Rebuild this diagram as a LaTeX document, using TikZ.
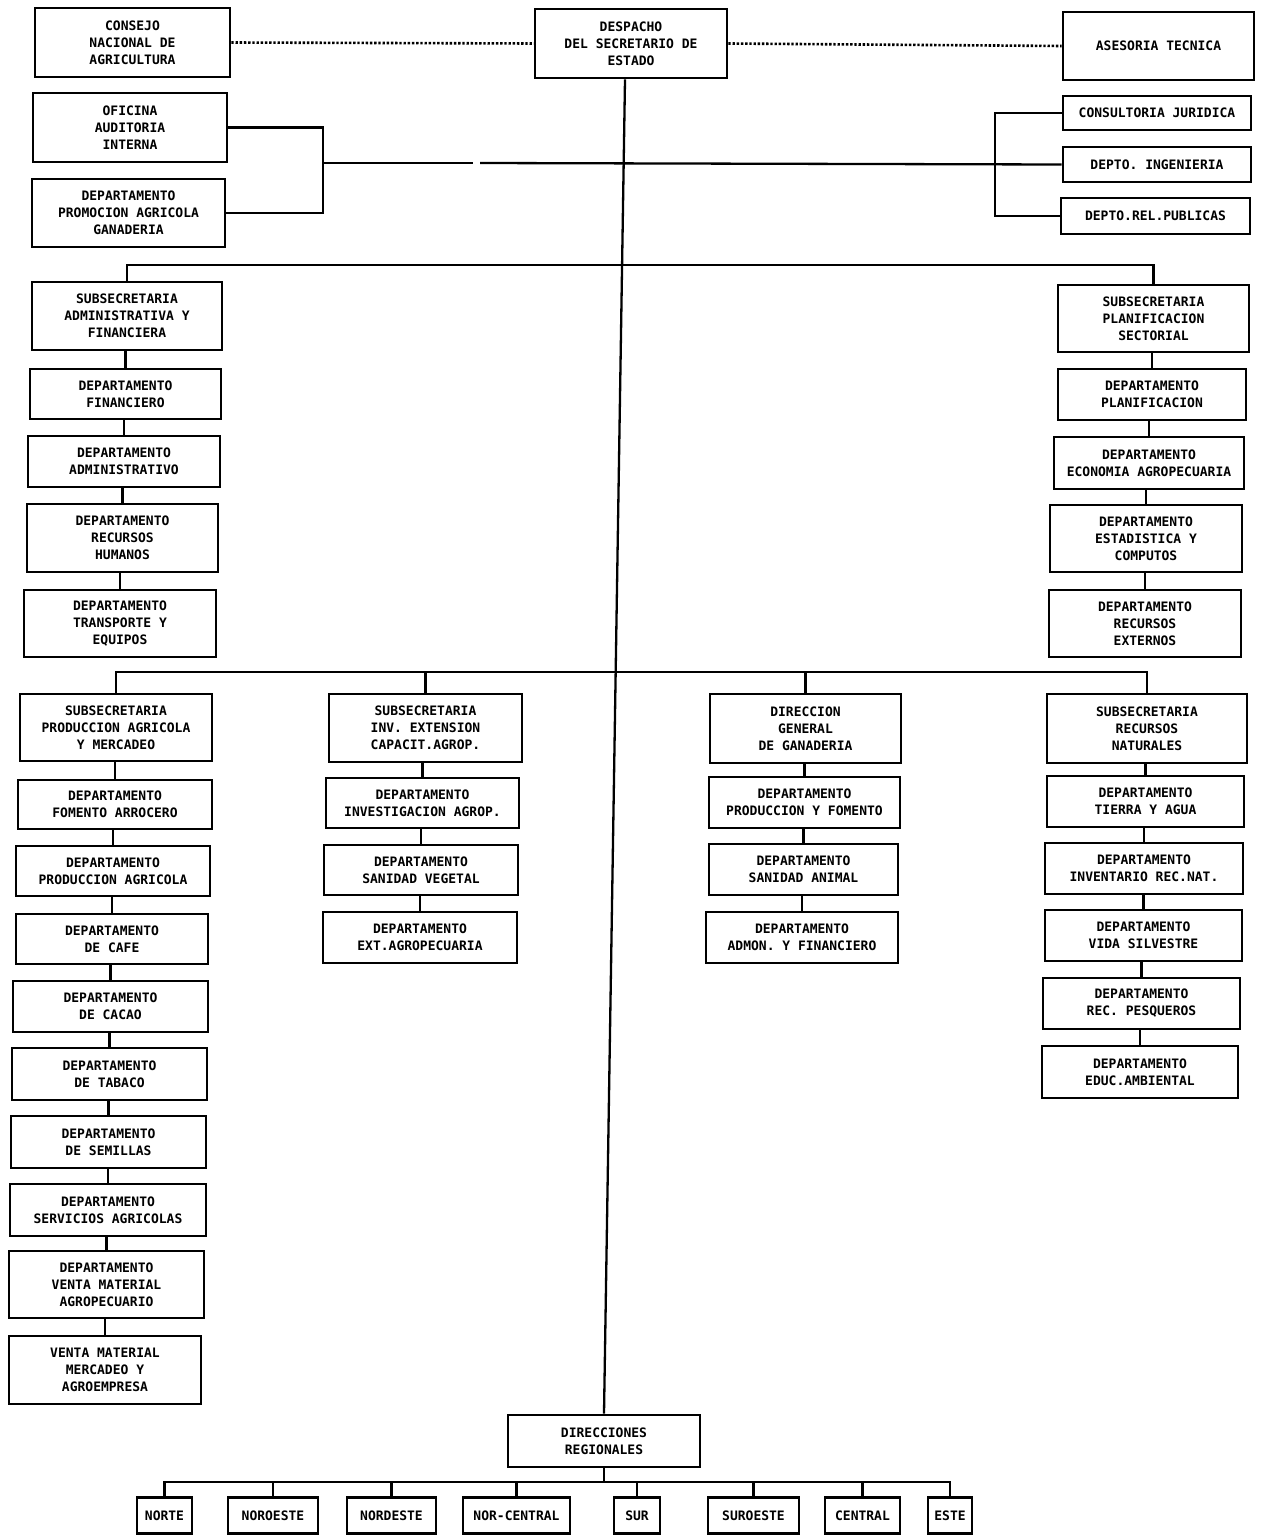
\documentclass[tikz,border=0pt]{standalone}
\usepackage{fontspec}
\newfontfamily\orgfont{DejaVu Sans Mono}
\begin{document}
\begin{tikzpicture}[x=1pt,y=-1pt,
  box/.style={draw, line width=2.6pt, inner sep=0pt, align=center,
    font=\orgfont\bfseries\fontsize{13}{17}\selectfont},
  link/.style={line width=2.3pt},
  dotlink/.style={line width=2.6pt, dash pattern=on 2.4pt off 1.8pt}]
\useasboundingbox[fill=white] (0,0) rectangle (1264,1537);
% top level
\node[box, minimum width=195pt, minimum height=69pt] (consejo) at (132.5,42.5) {CONSEJO\\NACIONAL DE\\AGRICULTURA};
\node[box, minimum width=192pt, minimum height=69pt] (despacho) at (631,43.5) {DESPACHO\\DEL SECRETARIO DE\\ESTADO};
\node[box, minimum width=191pt, minimum height=68pt] (asesoria) at (1158.5,46) {ASESORIA TECNICA};
\node[box, minimum width=194pt, minimum height=69pt] (oficina) at (130,127.5) {OFICINA\\AUDITORIA\\INTERNA};
\node[box, minimum width=193pt, minimum height=68pt] (promocion) at (128.5,213) {DEPARTAMENTO\\PROMOCION AGRICOLA\\GANADERIA};
\node[box, minimum width=188pt, minimum height=34pt] (juridica) at (1157,113) {CONSULTORIA JURIDICA};
\node[box, minimum width=188pt, minimum height=35pt] (ingenieria) at (1157,164.5) {DEPTO. INGENIERIA};
\node[box, minimum width=189pt, minimum height=36pt] (relpub) at (1155.5,216) {DEPTO.REL.PUBLICAS};
% administrativa
\node[box, minimum width=190pt, minimum height=68pt] (subadm) at (127,316) {SUBSECRETARIA\\ADMINISTRATIVA Y\\FINANCIERA};
\node[box, minimum width=191pt, minimum height=50pt] (fin) at (125.5,394) {DEPARTAMENTO\\FINANCIERO};
\node[box, minimum width=192pt, minimum height=51pt] (adm) at (124,461.5) {DEPARTAMENTO\\ADMINISTRATIVO};
\node[box, minimum width=191pt, minimum height=68pt] (rrhh) at (122.5,538) {DEPARTAMENTO\\RECURSOS\\HUMANOS};
\node[box, minimum width=192pt, minimum height=67pt] (trans) at (120,623.5) {DEPARTAMENTO\\TRANSPORTE Y\\EQUIPOS};
% planificacion
\node[box, minimum width=191pt, minimum height=67pt] (subplan) at (1153.5,318.5) {SUBSECRETARIA\\PLANIFICACION\\SECTORIAL};
\node[box, minimum width=188pt, minimum height=51pt] (plan) at (1152,394.5) {DEPARTAMENTO\\PLANIFICACION};
\node[box, minimum width=190pt, minimum height=52pt] (econ) at (1149,463) {DEPARTAMENTO\\ECONOMIA AGROPECUARIA};
\node[box, minimum width=192pt, minimum height=67pt] (est) at (1146,538.5) {DEPARTAMENTO\\ESTADISTICA Y\\COMPUTOS};
\node[box, minimum width=192pt, minimum height=67pt] (recext) at (1145,623.5) {DEPARTAMENTO\\RECURSOS\\EXTERNOS};
% produccion
\node[box, minimum width=192pt, minimum height=67pt] (subprod) at (116,727.5) {SUBSECRETARIA\\PRODUCCION AGRICOLA\\Y MERCADEO};
\node[box, minimum width=194pt, minimum height=49pt] (fom) at (115,804.5) {DEPARTAMENTO\\FOMENTO ARROCERO};
\node[box, minimum width=194pt, minimum height=50pt] (prodag) at (113,871) {DEPARTAMENTO\\PRODUCCION AGRICOLA};
\node[box, minimum width=192pt, minimum height=50pt] (cafe) at (112,939) {DEPARTAMENTO\\DE CAFE};
\node[box, minimum width=195pt, minimum height=51pt] (cacao) at (110.5,1006.5) {DEPARTAMENTO\\DE CACAO};
\node[box, minimum width=195pt, minimum height=52pt] (tabaco) at (109.5,1074) {DEPARTAMENTO\\DE TABACO};
\node[box, minimum width=195pt, minimum height=52pt] (semillas) at (108.5,1142) {DEPARTAMENTO\\DE SEMILLAS};
\node[box, minimum width=196pt, minimum height=52pt] (serv) at (108,1210) {DEPARTAMENTO\\SERVICIOS AGRICOLAS};
\node[box, minimum width=195pt, minimum height=67pt] (venta) at (106.5,1284.5) {DEPARTAMENTO\\VENTA MATERIAL\\AGROPECUARIO};
\node[box, minimum width=192pt, minimum height=68pt] (mercadeo) at (105,1370) {VENTA MATERIAL\\MERCADEO Y\\AGROEMPRESA};
% investigacion
\node[box, minimum width=193pt, minimum height=68pt] (subinv) at (425.5,728) {SUBSECRETARIA\\INV. EXTENSION\\CAPACIT.AGROP.};
\node[box, minimum width=193pt, minimum height=50pt] (invest) at (422.5,803) {DEPARTAMENTO\\INVESTIGACION AGROP.};
\node[box, minimum width=194pt, minimum height=50pt] (sanveg) at (421,870) {DEPARTAMENTO\\SANIDAD VEGETAL};
\node[box, minimum width=194pt, minimum height=51pt] (extag) at (420,937.5) {DEPARTAMENTO\\EXT.AGROPECUARIA};
% ganaderia
\node[box, minimum width=191pt, minimum height=69pt] (dirgan) at (805.5,728.5) {DIRECCION\\GENERAL\\DE GANADERIA};
\node[box, minimum width=191pt, minimum height=51pt] (prodfom) at (804.5,802.5) {DEPARTAMENTO\\PRODUCCION Y FOMENTO};
\node[box, minimum width=189pt, minimum height=51pt] (sanan) at (803.5,869.5) {DEPARTAMENTO\\SANIDAD ANIMAL};
\node[box, minimum width=192pt, minimum height=51pt] (admon) at (802,937.5) {DEPARTAMENTO\\ADMON. Y FINANCIERO};
% recursos naturales
\node[box, minimum width=200pt, minimum height=69pt] (subrec) at (1147,728.5) {SUBSECRETARIA\\RECURSOS\\NATURALES};
\node[box, minimum width=197pt, minimum height=51pt] (tierra) at (1145.5,801.5) {DEPARTAMENTO\\TIERRA Y AGUA};
\node[box, minimum width=198pt, minimum height=51pt] (invent) at (1144,868.5) {DEPARTAMENTO\\INVENTARIO REC.NAT.};
\node[box, minimum width=197pt, minimum height=51pt] (vida) at (1143.5,935.5) {DEPARTAMENTO\\VIDA SILVESTRE};
\node[box, minimum width=197pt, minimum height=51pt] (pesq) at (1141.5,1003.5) {DEPARTAMENTO\\REC. PESQUEROS};
\node[box, minimum width=196pt, minimum height=52pt] (educ) at (1140,1072) {DEPARTAMENTO\\EDUC.AMBIENTAL};
% regionales
\node[box, minimum width=192pt, minimum height=52pt] (direc) at (604,1441) {DIRECCIONES\\REGIONALES};
\node[box, minimum width=55pt, minimum height=36pt] (norte) at (164.5,1515.5) {NORTE};
\node[box, minimum width=90pt, minimum height=36pt] (noroeste) at (273,1515.5) {NOROESTE};
\node[box, minimum width=89pt, minimum height=36pt] (nordeste) at (391.5,1515.5) {NORDESTE};
\node[box, minimum width=107pt, minimum height=36pt] (norcentral) at (516.5,1515.5) {NOR-CENTRAL};
\node[box, minimum width=46pt, minimum height=36pt] (sur) at (637,1515.5) {SUR};
\node[box, minimum width=91pt, minimum height=36pt] (suroeste) at (753.5,1515.5) {SUROESTE};
\node[box, minimum width=75pt, minimum height=36pt] (central) at (862.5,1515.5) {CENTRAL};
\node[box, minimum width=44pt, minimum height=36pt] (este) at (950,1515.5) {ESTE};

% connectors
\coordinate (gapL) at (473,163);
\coordinate (gapR) at (480,163);
\coordinate (brL) at (323,163);
\coordinate (brR) at (995,164.5);
\draw[dotlink] (consejo.east) -- (despacho.east -| despacho.west);
\draw[dotlink] (despacho.east) -- (asesoria.west);
\draw[link] ([xshift=-6pt]despacho.south) -- (direc.north);
\draw[link] (oficina.east) -| (brL) |- (promocion.east);
\draw[link] (brL) -- (gapL);
\draw[link] (gapR) -- (ingenieria.west);
\draw[link] (juridica.west) -| (brR) |- (relpub.west);
% first bar
\draw[link] (subadm.north) |- (1150,265) -| (subplan.north);
% second bar
\draw[link] (subprod.north) |- (1147,672) -| (subrec.north);
\draw[link] (subinv.north) -- (subinv.north |- 0,672);
\draw[link] (dirgan.north) -- (dirgan.north |- 0,672);
% stacks
\foreach \a/\b in {subadm/fin, fin/adm, adm/rrhh, rrhh/trans,
  subplan/plan, plan/econ, econ/est, est/recext,
  subprod/fom, fom/prodag, prodag/cafe, cafe/cacao, cacao/tabaco, tabaco/semillas, semillas/serv, serv/venta, venta/mercadeo,
  subinv/invest, invest/sanveg, sanveg/extag,
  dirgan/prodfom, prodfom/sanan, sanan/admon,
  subrec/tierra, tierra/invent, invent/vida, vida/pesq, pesq/educ}
  \draw[link] (\b.north |- \a.south) -- (\b.north);
% regional bar
\coordinate (rbar) at (604,1482);
\draw[link] (direc.south) -- (rbar);
\draw[link] (norte.north) |- (rbar) -| (este.north);
\foreach \n in {noroeste, nordeste, norcentral, sur, suroeste, central}
  \draw[link] (\n.north) -- (\n.north |- rbar);
\end{tikzpicture}
\end{document}
